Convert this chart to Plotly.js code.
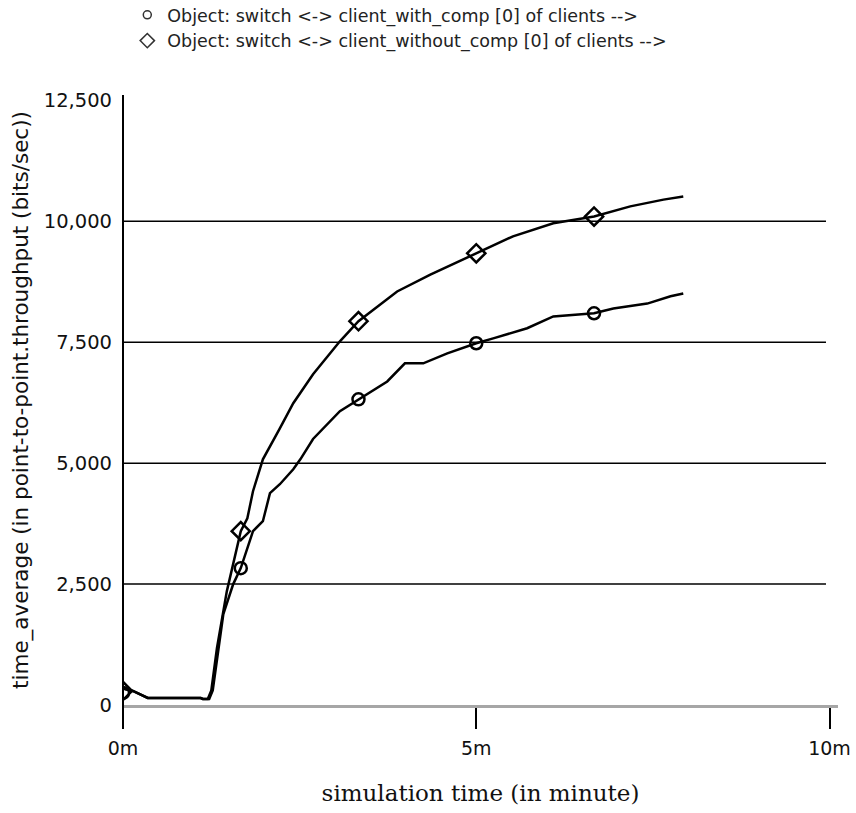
<!DOCTYPE html>
<html>
<head>
<meta charset="utf-8">
<script src="https://cdn.plot.ly/plotly-3.0.1.min.js"></script>
<style>html,body{margin:0;padding:0;background:#fff;}#chart{width:856px;height:813px;}</style>
</head>
<body>
<div id="chart"></div>
<script>
// ---- data (time in minutes, throughput in bits/sec) ----
const nameWith = 'Object: switch &lt;-&gt; client_with_comp [0] of clients --&gt;';
const nameWithout = 'Object: switch &lt;-&gt; client_without_comp [0] of clients --&gt;';

const tWithout = [0, 0.03, 0.14, 0.35, 1.1, 1.13, 1.2, 1.25, 1.33, 1.47, 1.667, 1.76, 1.84, 1.98, 2.22, 2.41, 2.69, 3.07, 3.333, 3.88, 4.35, 5.0, 5.52, 6.09, 6.667, 7.18, 7.65, 7.93];
const yWithout = [350, 330, 290, 145, 145, 125, 125, 300, 1180, 2355, 3595, 3860, 4420, 5080, 5720, 6240, 6840, 7520, 7935, 8550, 8900, 9340, 9690, 9960, 10100, 10310, 10450, 10515];

const tWith = [0, 0.03, 0.14, 0.35, 1.1, 1.13, 1.22, 1.27, 1.42, 1.56, 1.667, 1.84, 1.98, 2.08, 2.22, 2.41, 2.51, 2.69, 3.07, 3.333, 3.74, 3.99, 4.25, 4.59, 5.0, 5.24, 5.72, 6.09, 6.667, 6.94, 7.42, 7.75, 7.93];
const yWith = [350, 330, 290, 145, 145, 125, 125, 300, 1880, 2500, 2830, 3595, 3800, 4380, 4565, 4875, 5080, 5500, 6075, 6320, 6690, 7065, 7065, 7270, 7480, 7580, 7790, 8035, 8100, 8200, 8300, 8450, 8510];

const markT = [0, 1.667, 3.333, 5.0, 6.667];
const markWithout = [290, 3595, 7935, 9340, 10100];
const markWith = [250, 2830, 6320, 7480, 8100];

const yTicks = [0, 2500, 5000, 7500, 10000, 12500];
const yTickText = ['0', '2,500', '5,000', '7,500', '10,000', '12,500'];
const xTicks = [0, 5, 10];
const xTickText = ['0m', '5m', '10m'];
const gridVals = [2500, 5000, 7500, 10000];

const lineStyle = {color: '#000', width: 2.5};

const traces = [
  {x: tWithout, y: yWithout, mode: 'lines', line: lineStyle, showlegend: false, hoverinfo: 'skip'},
  {x: tWith, y: yWith, mode: 'lines', line: lineStyle, showlegend: false, hoverinfo: 'skip'},
  {x: markT, y: markWithout, mode: 'markers', showlegend: false,
   marker: {symbol: 'diamond-open', size: 14, color: '#000', line: {width: 2.5, color: '#000'}}},
  {x: markT, y: markWith, mode: 'markers', showlegend: false,
   marker: {symbol: 'circle-open', size: 12, color: '#000', line: {width: 2.5, color: '#000'}}},
  // legend entries
  {x: [null], y: [null], mode: 'markers', name: nameWith,
   marker: {symbol: 'circle-open', size: 8, color: '#333', line: {width: 1.5, color: '#333'}}},
  {x: [null], y: [null], mode: 'markers', name: nameWithout,
   marker: {symbol: 'diamond-open', size: 11, color: '#333', line: {width: 1.5, color: '#333'}}}
];

const shapes = gridVals.map(v => ({
  type: 'line', xref: 'x', yref: 'y', x0: 0, x1: 9.95, y0: v, y1: v,
  line: {color: '#000', width: 1.5}, layer: 'below'
}));
// y-axis line extending below the x axis
shapes.push({type: 'line', xref: 'paper', yref: 'paper', x0: 0, x1: 0, y0: -0.038, y1: 1,
  line: {color: '#000', width: 2}});

const layout = {
  width: 856, height: 813,
  margin: {l: 123, r: 18, t: 95, b: 108, autoexpand: false},
  paper_bgcolor: '#fff', plot_bgcolor: '#fff',
  font: {family: 'DejaVu Sans', size: 19, color: '#111'},
  showlegend: true,
  legend: {x: 0.006, xanchor: 'left', y: 1.1607, yanchor: 'top',
    font: {family: 'DejaVu Sans', size: 17.5, color: '#222'},
    bgcolor: 'rgba(0,0,0,0)', traceorder: 'normal', itemclick: false},
  xaxis: {
    range: [0, 10.12], showgrid: false, zeroline: false,
    showline: true, linecolor: '#a6a6a6', linewidth: 3,
    ticks: 'outside', ticklen: 21, tickwidth: 2, tickcolor: '#000',
    tickvals: xTicks, ticktext: xTickText, ticklabelstandoff: 3,
    tickfont: {family: 'DejaVu Sans', size: 19, color: '#111'},
    title: {text: 'simulation time (in minute)', standoff: 28,
      font: {family: 'DejaVu Serif', size: 23, color: '#111'}}
  },
  yaxis: {
    range: [0, 12613], showgrid: false, zeroline: false, showline: false,
    ticks: '', tickvals: yTicks, ticktext: yTickText, ticklabelstandoff: 10,
    tickfont: {family: 'DejaVu Sans', size: 19.5, color: '#111'},
    title: {text: 'time_average (in point-to-point.throughput (bits/sec))', standoff: 9,
      font: {family: 'DejaVu Sans', size: 21.5, color: '#111'}}
  },
  shapes: shapes
};

Plotly.newPlot('chart', traces, layout, {staticPlot: true});
</script>
</body>
</html>
